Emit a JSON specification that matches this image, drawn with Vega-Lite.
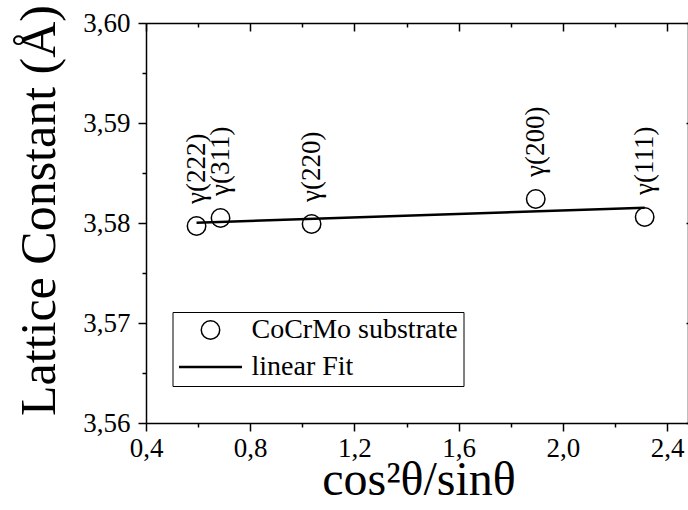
{
  "$schema": "https://vega.github.io/schema/vega-lite/v6.json",
  "width": 542,
  "height": 400,
  "autosize": "none",
  "padding": {"left": 146, "top": 23, "right": 0, "bottom": 87},
  "background": "white",
  "config": {
    "view": {"stroke": null},
    "font": "Liberation Serif",
    "axis": {
      "grid": false,
      "domainColor": "black",
      "domainWidth": 1.5,
      "tickColor": "black",
      "tickWidth": 1.5,
      "labelColor": "black",
      "titleColor": "black",
      "labelFont": "Liberation Serif",
      "titleFont": "Liberation Serif",
      "labelFontSize": 27,
      "titleFontWeight": "normal",
      "labelFlush": false,
      "labelOverlap": false
    }
  },
  "datasets": {
    "points": [
      {"x": 0.594, "y": 3.5797, "label": "γ(222)", "series": "CoCrMo substrate"},
      {"x": 0.686, "y": 3.5805, "label": "γ(311)", "series": "CoCrMo substrate"},
      {"x": 1.0355, "y": 3.5799, "label": "γ(220)", "series": "CoCrMo substrate"},
      {"x": 1.8957, "y": 3.5824, "label": "γ(200)", "series": "CoCrMo substrate"},
      {"x": 2.3137, "y": 3.5806, "label": "γ(111)", "series": "CoCrMo substrate"}
    ],
    "fit": [
      {"x": 0.594, "y": 3.58002},
      {"x": 2.3137, "y": 3.58153}
    ]
  },
  "resolve": {"axis": {"x": "independent", "y": "independent"}},
  "layer": [
    {
      "data": {"name": "fit"},
      "mark": {"type": "line", "color": "black", "strokeWidth": 2.5},
      "encoding": {
        "x": {
          "field": "x", "type": "quantitative",
          "scale": {"domain": [0.4, 2.48], "nice": false, "zero": false},
          "axis": {
            "orient": "top",
            "values": [0.4, 0.6, 0.8, 1.0, 1.2, 1.4, 1.6, 1.8, 2.0, 2.2, 2.4],
            "labels": false,
            "title": null,
            "tickSize": {"condition": {"test": "round(datum.value*10) % 4 == 0", "value": -8}, "value": -4}
          }
        },
        "y": {
          "field": "y", "type": "quantitative",
          "scale": {"domain": [3.56, 3.6], "nice": false, "zero": false},
          "axis": {
            "orient": "right",
            "values": [3.56, 3.57, 3.58, 3.59, 3.6],
            "labels": false,
            "title": null,
            "tickSize": -2
          }
        }
      }
    },
    {
      "data": {"name": "points"},
      "mark": {"type": "point", "filled": false, "color": "black", "opacity": 1},
      "encoding": {
        "x": {
          "field": "x", "type": "quantitative",
          "scale": {"domain": [0.4, 2.48], "nice": false, "zero": false},
          "axis": {
            "orient": "bottom",
            "values": [0.4, 0.6, 0.8, 1.0, 1.2, 1.4, 1.6, 1.8, 2.0, 2.2, 2.4],
            "labelExpr": "round(datum.value*10) % 4 == 0 ? replace(format(datum.value, '.1f'), '.', ',') : ''",
            "labelFont": "Liberation Serif",
            "labelPadding": 4,
            "tickSize": {"condition": {"test": "round(datum.value*10) % 4 == 0", "value": 8}, "value": 4},
            "title": "cos²θ/sinθ",
            "titleFontSize": 48,
            "titleX": 272.5,
            "titleY": 71,
            "titleAlign": "center",
            "titleBaseline": "alphabetic"
          }
        },
        "y": {
          "field": "y", "type": "quantitative",
          "scale": {"domain": [3.56, 3.6], "nice": false, "zero": false},
          "axis": {
            "orient": "left",
            "values": [3.56, 3.565, 3.57, 3.575, 3.58, 3.585, 3.59, 3.595, 3.6],
            "labelExpr": "abs(datum.value*100 - round(datum.value*100)) < 0.01 ? replace(format(datum.value, '.2f'), '.', ',') : ''",
            "labelFont": "Liberation Serif",
            "labelPadding": 8,
            "tickSize": {"condition": {"test": "abs(datum.value*100 - round(datum.value*100)) < 0.01", "value": 8}, "value": 4},
            "title": "Lattice Constant (Å)",
            "titleFontSize": 50,
            "titleX": -92,
            "titleY": 187,
            "titleAngle": 270,
            "titleAlign": "center",
            "titleBaseline": "alphabetic"
          }
        },
        "shape": {
          "field": "series", "type": "nominal",
          "scale": {"domain": ["CoCrMo substrate", "linear Fit"], "range": ["circle", "stroke"]},
          "legend": {
            "orient": "none",
            "legendX": 26.5,
            "legendY": 289,
            "title": null,
            "columns": 1,
            "clipHeight": 26,
            "rowPadding": 9,
            "padding": 5,
            "strokeColor": "black",
            "labelFont": "Liberation Serif",
            "labelFontSize": 28,
            "labelColor": "black",
            "labelOffset": 8,
            "labelLimit": 400,
            "symbolStrokeColor": "black",
            "symbolFillColor": "transparent"
          }
        },
        "size": {
          "field": "series", "type": "nominal",
          "scale": {"type": "ordinal", "domain": ["CoCrMo substrate", "linear Fit"], "range": [340, 3969]},
          "legend": {
            "orient": "none",
            "legendX": 26.5,
            "legendY": 289,
            "title": null,
            "columns": 1,
            "clipHeight": 26,
            "rowPadding": 9,
            "padding": 5,
            "strokeColor": "black",
            "labelFont": "Liberation Serif",
            "labelFontSize": 28,
            "labelColor": "black",
            "labelOffset": 8,
            "labelLimit": 400,
            "symbolStrokeColor": "black",
            "symbolFillColor": "transparent"
          }
        },
        "strokeWidth": {
          "field": "series", "type": "nominal",
          "scale": {"type": "ordinal", "domain": ["CoCrMo substrate", "linear Fit"], "range": [1.5, 2.5]},
          "legend": {
            "orient": "none",
            "legendX": 26.5,
            "legendY": 289,
            "title": null,
            "columns": 1,
            "clipHeight": 26,
            "rowPadding": 9,
            "padding": 5,
            "strokeColor": "black",
            "labelFont": "Liberation Serif",
            "labelFontSize": 28,
            "labelColor": "black",
            "labelOffset": 8,
            "labelLimit": 400,
            "symbolStrokeColor": "black",
            "symbolFillColor": "transparent"
          }
        }
      }
    },
    {
      "data": {"name": "points"},
      "mark": {"type": "text", "angle": 270, "align": "left", "baseline": "middle", "dx": 22, "fontSize": 27, "font": "Liberation Serif", "color": "black"},
      "encoding": {
        "x": {"field": "x", "type": "quantitative", "scale": {"domain": [0.4, 2.48], "nice": false, "zero": false}, "axis": null},
        "y": {"field": "y", "type": "quantitative", "scale": {"domain": [3.56, 3.6], "nice": false, "zero": false}, "axis": null},
        "text": {"field": "label"}
      }
    }
  ]
}
